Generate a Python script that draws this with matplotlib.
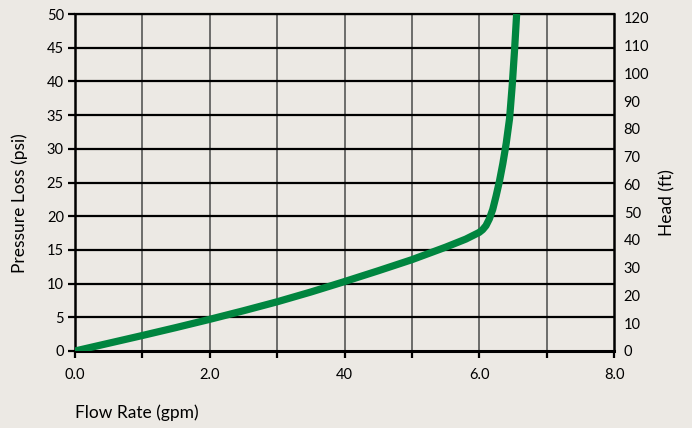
import matplotlib
matplotlib.use("Agg")
import matplotlib.pyplot as plt

# Data
flow_gpm = [0.0, 0.5, 1.0, 1.5, 2.0, 2.5, 3.0, 3.5, 4.0, 4.5, 5.0, 5.5, 5.8, 6.0,
            6.05, 6.1, 6.15, 6.2, 6.25, 6.3, 6.35, 6.4, 6.45, 6.49, 6.525, 6.555]
loss_psi = [0.0, 1.15, 2.3, 3.48, 4.7, 5.97, 7.3, 8.75, 10.3, 11.9, 13.55, 15.4, 16.6, 17.6,
            18.0, 18.6, 19.6, 21.0, 23.0, 25.2, 27.8, 30.8, 34.5, 39.5, 44.8, 50.0]

x_ticks = [0, 1, 2, 3, 4, 5, 6, 7, 8]
x_labels = ["0.0", "", "2.0", "", "40", "", "6.0", "", "8.0"]
y_ticks = [0, 5, 10, 15, 20, 25, 30, 35, 40, 45, 50]
head_ticks = [0, 10, 20, 30, 40, 50, 60, 70, 80, 90, 100, 110, 120]

BG = "#ECE9E4"
GREEN = "#00853F"

plt.rcParams['font.family'] = ['Lato', 'DejaVu Sans']

fig = plt.figure(figsize=(6.92, 4.28), dpi=100, facecolor=BG)
ax = fig.add_axes([75/692, 77/428, (614-75)/692, (351-14)/428])
ax.set_facecolor(BG)

ax.set_xlim(0, 8)
ax.set_ylim(0, 50)

# grid
for xv in x_ticks[1:-1]:
    ax.axvline(xv, color="#4a4a4a", lw=1.1, zorder=1)
for yv in y_ticks[1:]:
    ax.axhline(yv, color="black", lw=1.6, zorder=1)

ax.plot(flow_gpm, loss_psi, color=GREEN, lw=5.2, solid_capstyle="butt",
        solid_joinstyle="round", zorder=3)

ax.set_xticks(x_ticks)
ax.set_xticklabels(x_labels)
ax.set_yticks(y_ticks)
ax.tick_params(axis="x", direction="out", length=5, width=1.6, pad=7, labelsize=10.5, colors="black")
ax.tick_params(axis="y", direction="out", length=5, width=1.6, pad=3, labelsize=10.5)

for s in ["left", "right", "bottom"]:
    ax.spines[s].set_linewidth(1.8)
ax.spines["bottom"].set_linewidth(2.2)
ax.spines["top"].set_linewidth(1.6)

ax2 = ax.twinx()
ax2.set_ylim(0, 121.4)
ax2.set_yticks(head_ticks)
ax2.tick_params(axis="y", length=0, pad=7, labelsize=10.5)
for s in ax2.spines.values():
    s.set_visible(False)

fig.text(75/692, 1-413/428, "Flow Rate (gpm)", fontsize=12.5, ha="left", va="center")
fig.text(20/692, 1-203/428, "Pressure Loss (psi)", fontsize=12.5, rotation=90, ha="center", va="center")
fig.text(667/692, 1-203/428, "Head (ft)", fontsize=12.5, rotation=90, ha="center", va="center")

fig.savefig("out.png", dpi=100, facecolor=BG)
